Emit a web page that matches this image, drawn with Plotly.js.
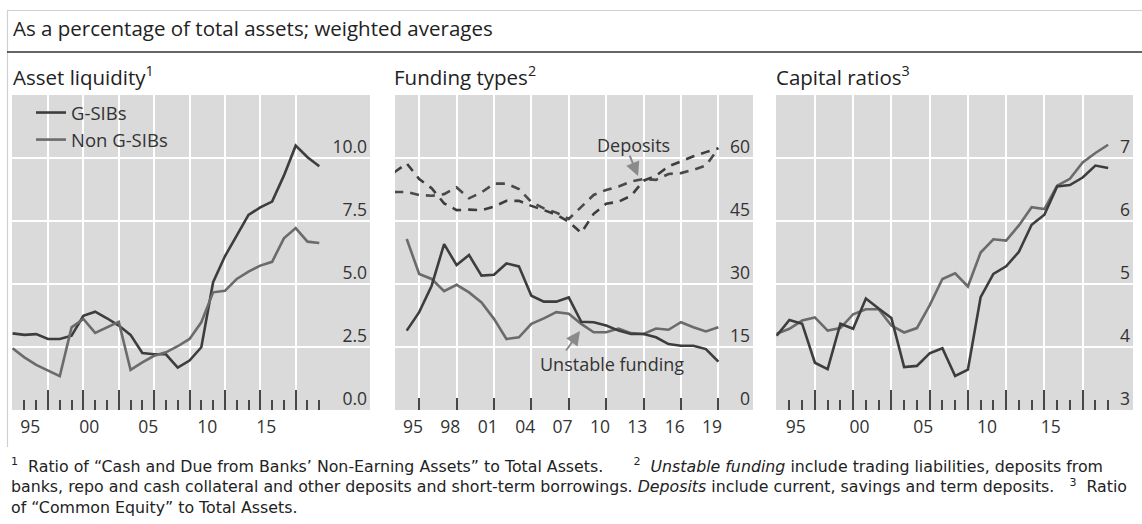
<!DOCTYPE html>
<html>
<head>
<meta charset="utf-8">
<script src="https://cdn.plot.ly/plotly-3.0.1.min.js"></script>
<style>html,body{margin:0;padding:0;background:#fff;} #chart{width:1142px;height:524px;}</style>
</head>
<body>
<div id="chart"></div>
<script>
// ---------- DATA ----------
const yearsA = [1993,1994,1995,1996,1997,1998,1999,2000,2001,2002,2003,2004,2005,2006,2007,2008,2009,2010,2011,2012,2013,2014,2015,2016,2017,2018,2019];
const yearsB = [1994,1995,1996,1997,1998,1999,2000,2001,2002,2003,2004,2005,2006,2007,2008,2009,2010,2011,2012,2013,2014,2015,2016,2017,2018,2019];

// Asset liquidity (%)
const liqGSIB = [3.04,2.98,3.01,2.82,2.82,2.95,3.74,3.90,3.64,3.35,2.98,2.26,2.21,2.21,1.68,1.96,2.49,5.07,6.10,6.92,7.74,8.04,8.27,9.30,10.49,10.03,9.67];
const liqNon  = [2.45,2.09,1.79,1.56,1.34,3.28,3.61,3.06,3.28,3.50,1.59,1.89,2.15,2.29,2.53,2.82,3.48,4.67,4.73,5.20,5.49,5.73,5.88,6.81,7.22,6.68,6.63];

// Funding types (%)
const unstGSIB = [18.9,23.3,29.6,39.5,34.5,36.9,32.0,32.2,34.9,34.2,27.2,25.8,25.8,26.8,21.0,20.9,20.1,18.9,18.1,18.1,17.3,15.7,15.3,15.3,14.5,11.5];
const unstNon  = [40.7,32.4,31.2,28.3,29.8,28.0,25.6,21.7,16.9,17.3,20.5,21.8,23.3,22.9,20.5,18.5,18.5,19.4,18.3,18.1,19.4,19.1,20.9,19.7,18.7,19.7];
const depA = [56.6,58.7,55.0,52.8,49.2,47.6,47.7,47.6,48.4,49.8,49.8,48.6,47.6,46.5,44.8,42.2,46.7,49.1,49.6,51.0,54.6,55.8,58.0,59.2,60.4,61.4,62.3];
const depB = [51.9,51.9,51.2,51.0,51.4,53.0,50.4,51.8,53.9,53.9,52.6,49.5,48.0,47.0,45.5,48.4,51.2,52.4,53.2,54.4,55.0,54.8,56.2,56.4,57.2,58.2,62.3];

// Capital ratios (%)
const capGSIB = [4.18,4.43,4.37,3.75,3.65,4.37,4.29,4.77,4.61,4.46,3.68,3.70,3.90,3.98,3.54,3.64,4.79,5.16,5.28,5.51,5.94,6.10,6.55,6.57,6.69,6.88,6.84];
const capNon  = [4.21,4.29,4.42,4.47,4.26,4.30,4.52,4.60,4.60,4.34,4.23,4.30,4.66,5.08,5.17,4.96,5.50,5.71,5.69,5.93,6.22,6.19,6.56,6.67,6.93,7.08,7.21];

// Tick labels
const labYears5 = [1995,2000,2005,2010,2015];
const labText5 = ['95','00','05','10','15'];
const labYears3 = [1995,1998,2001,2004,2007,2010,2013,2016,2019];
const labText3 = ['95','98','01','04','07','10','13','16','19'];
const gridYears13 = [1996,1999,2002,2005,2008,2011,2014,2017];
const gridYears2 = [1995,1998,2001,2004,2007,2010,2013,2016,2019];
const yTick1 = [0,2.5,5,7.5,10], yText1 = ['0.0','2.5','5.0','7.5','10.0'];
const yTick2 = [0,15,30,45,60];
const yTick3 = [3,4,5,6,7];

// ---------- STYLE ----------
const W = 1142, H = 524;
const px = x => x / W;
const py = y => 1 - y / H;
const FONT = 'Open Sans, Noto Sans, sans-serif';
const DARK = '#3d3d3d', LIGHT = '#6b6b6b', TXT = '#333333';
const BG = '#dadada';
const yDom = [py(410), py(95)];
const TICKSZ = 17.5;

function xMain(dom, range, gridVals, minorVals) {
  return {domain: dom, range: range, tickmode: 'array', tickvals: gridVals, showticklabels: false,
    ticks: 'inside', ticklen: minorVals ? 20 : 12, tickwidth: 2, tickcolor: '#474747',
    showgrid: true, gridcolor: '#ffffff', gridwidth: 2, zeroline: false, showline: false, fixedrange: true,
    minor: minorVals ? {tickmode: 'array', tickvals: minorVals, ticks: 'inside', ticklen: 10, tickwidth: 2, tickcolor: '#474747', showgrid: false} : undefined};
}
function xLab(over, anchor, range, vals, text) {
  return {overlaying: over, anchor: anchor, range: range, tickmode: 'array', tickvals: vals, ticktext: text,
    ticks: '', showgrid: false, zeroline: false, showline: false, side: 'bottom', ticklabelstandoff: 4,
    tickfont: {family: FONT, size: TICKSZ, color: TXT}, fixedrange: true};
}
function yAx(anchor, range, vals, text) {
  const a = {domain: yDom, anchor: anchor, range: range, tickmode: 'array', tickvals: vals,
    side: 'right', ticklabelposition: 'inside', ticklabelshift: -11, ticklabelstandoff: 0, ticklabeloverflow: 'allow',
    showgrid: true, gridcolor: '#ffffff', gridwidth: 2, zeroline: false, showline: false, ticks: '',
    tickfont: {family: FONT, size: TICKSZ, color: TXT}, fixedrange: true};
  if (text) a.ticktext = text;
  return a;
}
const r1 = [1992.95, 2023.3], r2 = [1993.06, 2021.78], r3 = [1992.95, 2020.95];

const lw = 2.6;
const dashP = '9px,7px';
const traces = [
  {x: yearsA, y: liqGSIB, xaxis: 'x', yaxis: 'y', name: 'G-SIBs', mode: 'lines', line: {color: DARK, width: lw}},
  {x: yearsA, y: liqNon, xaxis: 'x', yaxis: 'y', name: 'Non G-SIBs', mode: 'lines', line: {color: LIGHT, width: lw}},
  {x: yearsA, y: depB, xaxis: 'x2', yaxis: 'y2', showlegend: false, mode: 'lines', line: {color: '#4a4a4a', width: lw, dash: dashP}},
  {x: yearsA, y: depA, xaxis: 'x2', yaxis: 'y2', showlegend: false, mode: 'lines', line: {color: '#3d3d3d', width: lw, dash: dashP}},
  {x: yearsB, y: unstNon, xaxis: 'x2', yaxis: 'y2', showlegend: false, mode: 'lines', line: {color: LIGHT, width: lw}},
  {x: yearsB, y: unstGSIB, xaxis: 'x2', yaxis: 'y2', showlegend: false, mode: 'lines', line: {color: DARK, width: lw}},
  {x: yearsA, y: capNon, xaxis: 'x3', yaxis: 'y3', showlegend: false, mode: 'lines', line: {color: LIGHT, width: lw}},
  {x: yearsA, y: capGSIB, xaxis: 'x3', yaxis: 'y3', showlegend: false, mode: 'lines', line: {color: DARK, width: lw}},
  // carriers for the label axes
  {x: [null], y: [null], xaxis: 'x4', yaxis: 'y', showlegend: false, hoverinfo: 'skip'},
  {x: [null], y: [null], xaxis: 'x5', yaxis: 'y2', showlegend: false, hoverinfo: 'skip'},
  {x: [null], y: [null], xaxis: 'x6', yaxis: 'y3', showlegend: false, hoverinfo: 'skip'}
];

const minus = a => a.map(v => v - 0.5);
const TITLEF = {family: FONT, size: 20.5, color: '#222'};
const NOTEF = {family: 'DejaVu Sans, Open Sans, sans-serif', size: 15.8, color: '#222'};

const footnote =
  '<sup>1</sup>  Ratio of “Cash and Due from Banks’ Non-Earning Assets” to Total Assets.      <sup>2</sup>  <i>Unstable funding</i> include trading liabilities, deposits from' +
  '<br>banks, repo and cash collateral and other deposits and short-term borrowings. <i>Deposits</i> include current, savings and term deposits.   <sup>3</sup>  Ratio' +
  '<br>of “Common Equity” to Total Assets.';

const layout = {
  width: W, height: H, margin: {l: 0, r: 0, t: 0, b: 0},
  paper_bgcolor: '#ffffff', plot_bgcolor: BG,
  font: {family: FONT, color: TXT},
  showlegend: true,
  legend: {x: px(31), y: py(94), xanchor: 'left', yanchor: 'top', bgcolor: 'rgba(0,0,0,0)',
    font: {family: FONT, size: 18.5, color: TXT}, tracegroupgap: 0, itemwidth: 30},
  xaxis: xMain([px(12), px(370)], r1, gridYears13, yearsA),
  xaxis2: Object.assign(xMain([px(395), px(753)], r2, gridYears2, null), {anchor: 'y2'}),
  xaxis3: Object.assign(xMain([px(776), px(1133)], r3, gridYears13, yearsA), {anchor: 'y3'}),
  xaxis4: xLab('x', 'y', r1, minus(labYears5), labText5),
  xaxis5: xLab('x2', 'y2', r2, minus(labYears3), labText3),
  xaxis6: xLab('x3', 'y3', r3, minus(labYears5), labText5),
  yaxis: yAx('x', [0, 12.5], yTick1, yText1),
  yaxis2: yAx('x2', [0, 75], yTick2),
  yaxis3: yAx('x3', [3, 8], yTick3),
  shapes: [
    {type: 'line', xref: 'paper', yref: 'paper', x0: px(7), x1: px(1142), y0: py(10.5), y1: py(10.5), line: {color: '#d0d0d0', width: 1.2}},
    {type: 'line', xref: 'paper', yref: 'paper', x0: px(7.5), x1: px(7.5), y0: py(10.5), y1: py(447), line: {color: '#d0d0d0', width: 1.2}},
    {type: 'line', xref: 'paper', yref: 'paper', x0: px(7), x1: px(1142), y0: py(52), y1: py(52), line: {color: '#333333', width: 1.6}}
  ],
  annotations: [
    {xref: 'paper', yref: 'paper', x: px(11), y: py(28), xanchor: 'left', yanchor: 'middle', showarrow: false,
      text: 'As a percentage of total assets; weighted averages', font: TITLEF},
    {xref: 'paper', yref: 'paper', x: px(11), y: py(76), xanchor: 'left', yanchor: 'middle', showarrow: false,
      text: 'Asset liquidity<sup>1</sup>', font: TITLEF},
    {xref: 'paper', yref: 'paper', x: px(392), y: py(76), xanchor: 'left', yanchor: 'middle', showarrow: false,
      text: 'Funding types<sup>2</sup>', font: TITLEF},
    {xref: 'paper', yref: 'paper', x: px(774), y: py(76), xanchor: 'left', yanchor: 'middle', showarrow: false,
      text: 'Capital ratios<sup>3</sup>', font: TITLEF},
    // Funding panel labels
    {xref: 'x2', yref: 'y2', x: 2012.2, y: 63.1, showarrow: false, text: 'Deposits', font: {family: FONT, size: 18, color: TXT}},
    {xref: 'x2', yref: 'y2', x: 2012.56, y: 55.7, ax: -9, ay: -22, text: '', showarrow: true, arrowhead: 2, arrowsize: 1.4, arrowwidth: 2, arrowcolor: '#8a8a8a', standoff: 0, startstandoff: 0},
    {xref: 'x2', yref: 'y2', x: 2010.5, y: 10.95, showarrow: false, text: 'Unstable funding', font: {family: FONT, size: 18, color: TXT}},
    {xref: 'x2', yref: 'y2', x: 2007.9, y: 18.8, ax: -15, ay: 21, text: '', showarrow: true, arrowhead: 2, arrowsize: 1.4, arrowwidth: 2, arrowcolor: '#8a8a8a', standoff: 0, startstandoff: 0},
    // footnotes
    {xref: 'paper', yref: 'paper', x: px(9), y: py(486), xanchor: 'left', yanchor: 'middle', showarrow: false, align: 'left',
      text: footnote, font: NOTEF}
  ]
};

Plotly.newPlot('chart', traces, layout, {staticPlot: true, displayModeBar: false});
</script>
</body>
</html>
